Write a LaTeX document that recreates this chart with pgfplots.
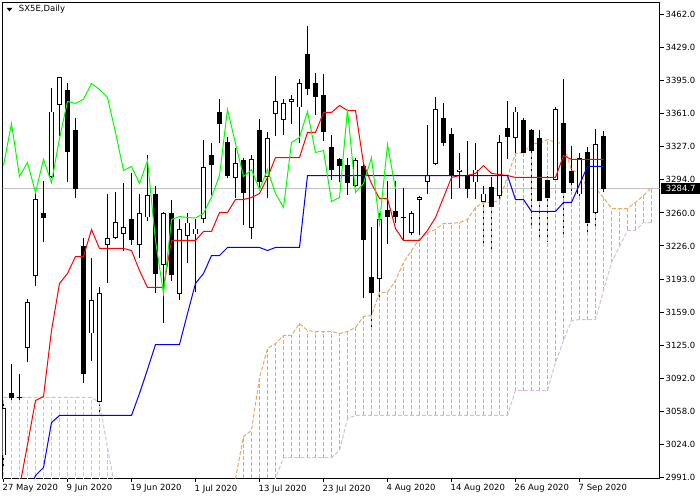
\documentclass[border=0pt]{standalone}
\usepackage{fontspec}
\setmainfont{DejaVu Sans}
\usepackage{pgfplots}
\usepackage{pgfplotstable}
\pgfplotsset{compat=1.18}
\definecolor{sandy}{RGB}{244,164,96}
\definecolor{thist}{RGB}{216,191,216}
\definecolor{chik}{RGB}{0,255,0}
\definecolor{pline}{RGB}{192,192,192}
\newcommand{\lblfont}{\fontsize{8.5}{10}\selectfont}
\pgfdeclareplotmark{nothing}{}
\pgfplotsset{nomk/.style={only marks, mark=nothing}}

% white (rising) candles
\pgfplotstableread{
i O H L C
0 3013.4 3066.3 3000.2 3062.2
3 3123.2 3172.1 3108.0 3170.0
4 3195.5 3283.0 3186.3 3274.8
6 3296.2 3387.7 3295.2 3363.3
7 3370.4 3398.9 3338.9 3398.9
11 3137.5 3214.8 3110.0 3171.1
12 3068.3 3185.3 3054.1 3178.2
13 3228.0 3279.9 3188.4 3235.1
14 3235.1 3281.9 3234.1 3251.4
15 3239.2 3290.1 3221.9 3246.3
17 3228.0 3279.9 3214.8 3259.6
18 3255.5 3318.6 3252.4 3277.9
20 3206.7 3260.6 3147.7 3259.6
22 3177.2 3253.5 3171.1 3243.3
23 3236.2 3259.6 3208.7 3250.4
24 3238.2 3253.5 3179.2 3244.3
25 3253.5 3334.8 3249.4 3306.4
29 3295.2 3325.7 3275.8 3311.4
31 3245.3 3318.6 3234.1 3314.5
33 3296.2 3342.0 3275.8 3335.9
34 3360.3 3399.9 3338.9 3373.5
35 3354.2 3376.5 3339.9 3371.5
36 3373.2 3379.6 3351.1 3375.8
37 3367.4 3395.9 3330.8 3391.8
44 3288.0 3316.5 3287.0 3313.5
47 3193.4 3259.6 3174.1 3253.5
51 3240.2 3262.6 3237.2 3259.6
52 3273.5 3276.9 3237.2 3276.2
53 3292.1 3349.1 3279.9 3298.2
54 3310.4 3377.6 3308.4 3365.4
57 3301.3 3320.6 3285.0 3304.3
59 3291.1 3330.8 3274.8 3304.3
60 3270.8 3288.0 3225.0 3279.9
62 3276.9 3339.9 3274.8 3331.8
64 3335.9 3367.4 3319.6 3363.3
69 3294.1 3367.4 3291.1 3365.4
72 3278.9 3320.6 3272.8 3316.5
74 3259.6 3346.0 3245.3 3329.8
}\bull

% black (falling) candles
\pgfplotstableread{
i O H L C
1 3076.5 3106.0 3069.3 3071.4
2 3073.0 3096.8 3069.3 3072.0
5 3259.6 3293.1 3230.1 3254.5
8 3384.7 3391.8 3292.1 3322.6
9 3344.0 3356.2 3275.8 3284.0
10 3226.0 3235.1 3087.6 3096.8
16 3253.5 3300.3 3228.0 3233.1
19 3278.9 3288.0 3178.2 3198.5
21 3259.6 3272.8 3191.4 3196.5
26 3318.6 3330.8 3277.9 3308.4
27 3363.3 3376.5 3330.8 3351.1
28 3331.8 3336.9 3295.2 3297.2
30 3313.5 3316.5 3247.4 3280.9
32 3345.0 3355.2 3284.0 3291.1
38 3421.3 3449.8 3379.6 3385.7
39 3391.8 3402.0 3359.3 3377.6
40 3379.6 3401.0 3332.8 3342.0
41 3326.7 3339.9 3294.1 3303.3
42 3315.5 3316.5 3291.1 3307.4
43 3309.4 3316.5 3277.9 3290.1
45 3307.4 3311.4 3174.1 3232.1
46 3194.5 3246.3 3144.6 3178.2
48 3263.6 3293.1 3229.0 3256.5
49 3261.6 3293.1 3250.4 3255.5
50 3255.8 3286.0 3232.1 3255.0
55 3356.2 3371.5 3328.7 3330.8
56 3340.9 3347.0 3274.8 3297.2
58 3297.2 3332.8 3275.8 3284.0
61 3287.0 3296.2 3221.9 3265.7
63 3347.0 3373.5 3315.5 3336.9
65 3354.2 3356.2 3317.5 3321.6
66 3344.0 3346.0 3245.3 3323.6
67 3335.9 3345.0 3232.1 3271.8
68 3294.1 3298.2 3230.1 3275.8
70 3352.1 3395.9 3235.1 3280.9
71 3302.3 3328.7 3279.9 3290.1
73 3322.6 3326.7 3240.2 3249.4
75 3337.9 3343.0 3281.9 3284.7
}\bear

% Tenkan-sen (T) and Kijun-sen (K)
\pgfplotstableread{
i T K
0 2960.0 2950.0
1 2960.0 2950.0
2 2980.8 2950.0
3 3024.6 2972.0
4 3069.3 2993.0
5 3073.4 3001.2
6 3140.5 3046.9
7 3188.4 3054.1
8 3198.5 3054.1
9 3215.8 3054.1
10 3215.8 3054.1
11 3243.3 3054.1
12 3224.0 3054.1
13 3224.0 3054.1
14 3224.0 3054.1
15 3224.0 3054.1
16 3221.9 3054.1
17 3201.6 3076.5
18 3184.3 3100.9
19 3184.3 3126.3
20 3184.3 3126.3
21 3232.1 3126.3
22 3232.1 3126.3
23 3232.1 3157.8
24 3232.1 3188.4
25 3241.3 3198.5
26 3241.3 3216.8
27 3260.6 3216.8
28 3260.6 3225.0
29 3273.8 3225.0
30 3273.8 3225.0
31 3275.8 3225.0
32 3279.9 3225.0
33 3296.2 3221.9
34 3316.5 3225.0
35 3316.5 3225.0
36 3316.5 3225.0
37 3316.5 3225.0
38 3342.0 3298.2
39 3342.0 3298.2
40 3362.3 3298.2
41 3362.3 3298.2
42 3369.4 3298.2
43 3364.3 3298.2
44 3364.3 3298.2
45 3310.4 3298.2
46 3290.1 3298.2
47 3274.8 3298.2
48 3274.8 3298.2
49 3244.3 3298.2
50 3232.1 3298.2
51 3232.1 3298.2
52 3232.1 3298.2
53 3242.3 3298.2
54 3255.5 3298.2
55 3275.8 3298.2
56 3296.2 3298.2
57 3298.2 3298.2
58 3298.2 3298.2
59 3300.3 3298.2
60 3308.4 3298.2
61 3300.3 3298.2
62 3299.2 3298.2
63 3298.2 3298.2
64 3296.2 3273.8
65 3296.2 3273.8
66 3296.2 3261.6
67 3296.2 3261.6
68 3296.2 3261.6
69 3296.2 3261.6
70 3318.6 3270.8
71 3314.5 3270.8
72 3314.5 3289.1
73 3314.5 3307.4
74 3314.5 3307.4
75 3314.5 3307.4
}\tk

% Chikou span
\pgfplotstableread{
i G
0 3308.4
1 3351.1
2 3297.2
3 3311.4
4 3280.9
5 3314.5
6 3291.1
7 3335.9
8 3373.5
9 3371.5
10 3375.8
11 3391.8
12 3385.7
13 3377.6
14 3342.0
15 3303.3
16 3307.4
17 3290.1
18 3313.5
19 3232.1
20 3178.2
21 3253.5
22 3256.5
23 3255.5
24 3255.0
25 3259.6
26 3276.2
27 3298.2
28 3365.4
29 3330.8
30 3297.2
31 3304.3
32 3284.0
33 3304.3
34 3279.9
35 3265.7
36 3331.8
37 3336.9
38 3363.3
39 3321.6
40 3323.6
41 3271.8
42 3275.8
43 3365.4
44 3280.9
45 3290.1
46 3316.5
47 3249.4
48 3329.8
49 3284.7
}\chikou

% Senkou span A and B
\pgfplotstableread{
i A B
0 2950 3072.4
1 2950 3072.4
2 2950 3072.4
3 2950 3072.4
4 2950 3072.4
5 2950 3072.4
6 2950 3072.4
7 2950 3072.4
8 2950 3072.4
9 2950 3072.4
10 2950 3072.4
11 2950 3072.4
12 2950 3067.3
13 2950 3021.5
14 2950 2977.8
15 2950 2960
16 2950 2960
17 2950 2960
18 2950 2960
19 2950 2960
20 2950 2960
21 2950 2960
22 2950 2960
23 2950 2960
24 2950 2960
25 2950 2960
26 2950 2960
27 2950 2960
28 2950 2960
29 2990.0 2960
30 3032.7 2960
31 3038.8 2960
32 3092.7 2960
33 3122.2 2960
34 3127.3 2990.0
35 3135.5 3011.3
36 3135.5 3011.3
37 3147.7 3011.3
38 3140.5 3011.3
39 3139.5 3011.3
40 3139.5 3011.3
41 3139.5 3011.3
42 3137.5 3018.5
43 3139.5 3051.0
44 3143.6 3054.1
45 3154.8 3054.1
46 3155.8 3054.1
47 3179.2 3054.1
48 3179.2 3054.1
49 3191.4 3054.1
50 3209.7 3054.1
51 3221.9 3054.1
52 3234.1 3054.1
53 3240.2 3054.1
54 3243.3 3054.1
55 3249.4 3054.1
56 3249.4 3054.1
57 3250.4 3054.1
58 3253.5 3054.1
59 3265.7 3054.1
60 3270.8 3054.1
61 3270.8 3054.1
62 3272.8 3054.1
63 3297.2 3054.1
64 3320.6 3079.5
65 3321.6 3079.5
66 3330.8 3079.5
67 3330.8 3079.5
68 3334.8 3079.5
69 3331.8 3108.0
70 3330.8 3130.4
71 3303.3 3150.7
72 3301.3 3151.7
73 3285.0 3151.7
74 3285.0 3151.7
75 3275.8 3181.2
76 3264.6 3209.7
77 3264.6 3226.0
78 3264.6 3242.3
79 3270.8 3242.3
80 3277.9 3250.4
81 3286.0 3250.4
}\cloud

% cloud hatch, rising cloud (A above B): one vertical segment per bar
\pgfplotstableread{
x y
29 2960
29 2990.0
nan nan
30 2960
30 3032.7
nan nan
31 2960
31 3038.8
nan nan
32 2960
32 3092.7
nan nan
33 2960
33 3122.2
nan nan
34 2990.0
34 3127.3
nan nan
35 3011.3
35 3135.5
nan nan
36 3011.3
36 3135.5
nan nan
37 3011.3
37 3147.7
nan nan
38 3011.3
38 3140.5
nan nan
39 3011.3
39 3139.5
nan nan
40 3011.3
40 3139.5
nan nan
41 3011.3
41 3139.5
nan nan
42 3018.5
42 3137.5
nan nan
43 3051.0
43 3139.5
nan nan
44 3054.1
44 3143.6
nan nan
45 3054.1
45 3154.8
nan nan
46 3054.1
46 3155.8
nan nan
47 3054.1
47 3179.2
nan nan
48 3054.1
48 3179.2
nan nan
49 3054.1
49 3191.4
nan nan
50 3054.1
50 3209.7
nan nan
51 3054.1
51 3221.9
nan nan
52 3054.1
52 3234.1
nan nan
53 3054.1
53 3240.2
nan nan
54 3054.1
54 3243.3
nan nan
55 3054.1
55 3249.4
nan nan
56 3054.1
56 3249.4
nan nan
57 3054.1
57 3250.4
nan nan
58 3054.1
58 3253.5
nan nan
59 3054.1
59 3265.7
nan nan
60 3054.1
60 3270.8
nan nan
61 3054.1
61 3270.8
nan nan
62 3054.1
62 3272.8
nan nan
63 3054.1
63 3297.2
nan nan
64 3079.5
64 3320.6
nan nan
65 3079.5
65 3321.6
nan nan
66 3079.5
66 3330.8
nan nan
67 3079.5
67 3330.8
nan nan
68 3079.5
68 3334.8
nan nan
69 3108.0
69 3331.8
nan nan
70 3130.4
70 3330.8
nan nan
71 3150.7
71 3303.3
nan nan
72 3151.7
72 3301.3
nan nan
73 3151.7
73 3285.0
nan nan
74 3151.7
74 3285.0
nan nan
75 3181.2
75 3275.8
nan nan
76 3209.7
76 3264.6
nan nan
77 3226.0
77 3264.6
nan nan
78 3242.3
78 3264.6
nan nan
79 3242.3
79 3270.8
nan nan
80 3250.4
80 3277.9
nan nan
81 3250.4
81 3286.0
}\hatchup

% cloud hatch, falling cloud (B above A)
\pgfplotstableread{
x y
0 2950
0 3072.4
nan nan
1 2950
1 3072.4
nan nan
2 2950
2 3072.4
nan nan
3 2950
3 3072.4
nan nan
4 2950
4 3072.4
nan nan
5 2950
5 3072.4
nan nan
6 2950
6 3072.4
nan nan
7 2950
7 3072.4
nan nan
8 2950
8 3072.4
nan nan
9 2950
9 3072.4
nan nan
10 2950
10 3072.4
nan nan
11 2950
11 3072.4
nan nan
12 2950
12 3067.3
nan nan
13 2950
13 3021.5
}\hatchdn

\begin{document}
\begin{tikzpicture}
\begin{axis}[
  at={(0,0)}, anchor=south west, scale only axis,
  width=657bp, height=476bp,
  xmin=-0.125, xmax=82, ymin=2990.0, ymax=3474.2,
  axis line style={black, line width=1bp},
  tick style={black, line width=1bp},
  tick align=outside, major tick length=4bp,
  xtick pos=bottom, ytick pos=right, yticklabel pos=right,
  xtick={0,8,16,24,32,40,48,56,64,72},
  xticklabels={27 May 2020, 9 Jun 2020, 19 Jun 2020, 1 Jul 2020, 13 Jul 2020, 23 Jul 2020, 4 Aug 2020, 14 Aug 2020, 26 Aug 2020, 7 Sep 2020},
  ytick={2991,3024.643,3058.286,3091.929,3125.571,3159.214,3192.857,3226.5,3260.143,3293.786,3327.429,3361.071,3394.714,3428.357,3462},
  yticklabels={2991.0,3024.0,3058.0,3092.0,3125.0,3159.0,3193.0,3226.0,3260.0,3294.0,3327.0,3361.0,3395.0,3429.0,3462.0},
  tick label style={font=\lblfont, inner sep=0pt},
  xticklabel style={anchor=north west, xshift=-1bp, yshift=-2bp},
  yticklabel style={anchor=west, xshift=2bp},
]
% bid line
\addplot[pline, line width=1bp] coordinates {(-1,3284.7) (83,3284.7)};
% wicks
\addplot[black, nomk,
  error bars/.cd, y dir=plus, y explicit, error mark=none,
  error bar style={draw=black, line width=1bp, solid}]
  table[x=i, y=L, y error expr=\thisrow{H}-\thisrow{L}] {\bull};
\addplot[black, nomk,
  error bars/.cd, y dir=plus, y explicit, error mark=none,
  error bar style={draw=black, line width=1bp, solid}]
  table[x=i, y=L, y error expr=\thisrow{H}-\thisrow{L}] {\bear};
% cloud hatch and span lines
\addplot[draw={rgb,255:red,216;green,191;blue,216}, line width=1.2bp, dash pattern=on 4bp off 2bp, unbounded coords=jump] table[x=x, y=y] {\hatchdn};
\addplot[draw={rgb,255:red,244;green,164;blue,96}, line width=1.2bp, dash pattern=on 4bp off 2bp, unbounded coords=jump] table[x=x, y=y] {\hatchup};
\addplot[sandy, line width=1bp, dash pattern=on 4bp off 2bp] table[x=i, y=A] {\cloud};
\addplot[thist, line width=1bp, dash pattern=on 4bp off 2bp] table[x=i, y=B] {\cloud};
% bodies
\addplot[black, nomk,
  error bars/.cd, y dir=plus, y explicit, error mark=none,
  error bar style={draw=black, line width=5bp, solid}]
  table[x=i, y=C, y error expr=\thisrow{O}-\thisrow{C}] {\bear};
\addplot[black, nomk,
  error bars/.cd, y dir=plus, y explicit, error mark=none,
  error bar style={draw=black, line width=5bp, solid}]
  table[x=i, y=O, y error expr=\thisrow{C}-\thisrow{O}] {\bull};
\addplot[white, nomk,
  error bars/.cd, y dir=plus, y explicit, error mark=none,
  error bar style={draw=white, line width=3bp, solid}]
  table[x=i, y expr=\thisrow{O}+1.0, y error expr=\thisrow{C}-\thisrow{O}-2.0] {\bull};
% Ichimoku lines
\addplot[red, line width=1bp] table[x=i, y=T] {\tk};
\addplot[blue, line width=1bp] table[x=i, y=K] {\tk};
\addplot[chik, line width=1bp] table[x=i, y=G] {\chikou};
\coordinate (lp) at (axis cs:82,3284.7);
\end{axis}
\node[fill=black, text=white, anchor=west, inner sep=0pt, minimum width=40bp, minimum height=11bp, font=\lblfont] at ([xshift=1bp]lp) {3284.7};
\fill (4bp,470.7bp) -- (10bp,470.7bp) -- (7bp,467.2bp) -- cycle;
\node[anchor=base west, inner sep=0pt, font=\lblfont] at (16.3bp,466.7bp) {SX5E,Daily};
\pgfresetboundingbox
\path (-2.5bp,-21.5bp) rectangle (697.5bp,478.5bp);
\end{tikzpicture}
\end{document}
